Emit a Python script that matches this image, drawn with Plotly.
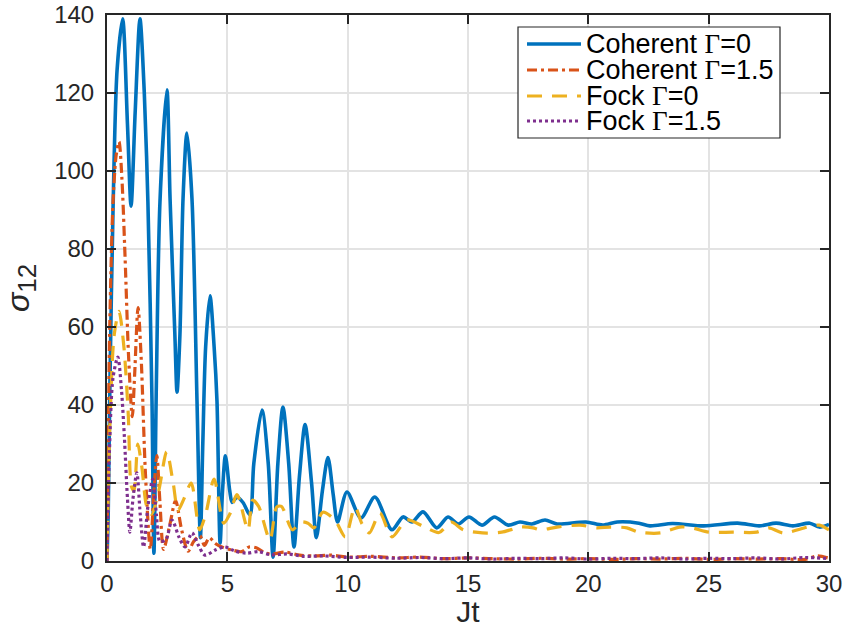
import plotly.graph_objects as go

# Time axis (Jt) and sigma_12 samples for each case
coh0_t = [0, 0.05, 0.12, 0.25, 0.42, 0.65, 0.85, 1.0, 1.17, 1.37, 1.55, 1.7, 1.87, 1.95, 2.05, 2.2,
          2.49, 2.62, 2.82, 2.91, 3.03, 3.16, 3.32, 3.53, 3.74, 3.88, 3.98, 4.1, 4.28, 4.45, 4.57,
          4.7, 4.8, 4.92, 5.1, 5.2, 5.4, 5.65, 5.94, 6.1, 6.44, 6.7, 6.9, 7.1, 7.31, 7.55, 7.77,
          8.0, 8.23, 8.5, 8.7, 8.95, 9.18, 9.4, 9.58, 9.97, 10.55, 11.13, 11.84, 12.3, 12.67,
          13.13, 13.7, 14.17, 14.6, 15.04, 15.58, 16.1, 16.67, 17.16, 17.65, 18.2, 18.7, 19.9,
          20.6, 21.2, 22.1, 22.56, 23.5, 24.8, 26.2, 27.1, 27.8, 28.5, 29.2, 29.6, 30]
coh0_s = [0, 12, 45, 90, 126, 139, 112, 91, 115, 139, 120, 92, 41, 2, 45, 92,
          120.8, 93, 58, 43.3, 58, 93, 109.7, 93, 41, 6, 30, 55, 68, 55, 41,
          4.6, 18, 27, 18, 15, 16.4, 15, 11.8, 25, 38.7, 25, 1, 25, 39.5, 25, 3.6,
          22, 35, 20, 6, 18, 26.5, 17, 10, 17.7, 11, 16.4, 8, 11.3, 10,
          12.6, 8.5, 11.3, 9.5, 11.3, 9.2, 11.3, 9.2, 10, 9.5, 10.5, 9.5, 10,
          9.2, 10, 9.7, 9, 9.6, 9, 9.7, 9, 9.7, 9, 9.7, 8.7, 9.4]

coh15_t = [0, 0.05, 0.12, 0.25, 0.38, 0.5, 0.62, 0.75, 0.9, 1.05, 1.15, 1.29, 1.42, 1.6, 1.8,
           1.95, 2.07, 2.2, 2.35, 2.6, 2.85, 3.1, 3.37, 3.6, 3.86, 4.05, 4.25, 4.5, 4.8, 5.2,
           5.6, 5.9, 6.2, 6.6, 6.9, 7.4, 8.0, 8.6, 9.3, 10, 11, 12, 13, 14, 15, 16, 17, 18, 19,
           20, 21, 22, 23, 24, 25, 26, 27, 28, 29, 29.5, 30]
coh15_s = [0, 30, 62, 92, 104, 107.5, 98, 78, 52, 37, 48, 65, 52, 22, 3,
           18, 27, 15, 3, 9, 15.5, 8, 2.5, 5, 6.5, 4, 6, 4.5, 3.5, 2.8,
           2.4, 3.6, 3.4, 2, 1.8, 2.3, 1.5, 1.3, 1.5, 1.0, 1.2, 0.8, 1.0, 0.6, 0.8, 0.6, 0.5, 0.7, 0.5,
           0.6, 0.4, 0.6, 0.5, 0.7, 0.4, 0.6, 0.5, 0.6, 0.4, 1.3, 0.7]

fock0_t = [0, 0.12, 0.3, 0.5, 0.7, 0.88, 1.02, 1.12, 1.28, 1.45, 1.65, 1.85, 2.15, 2.48, 2.75,
           2.95, 3.2, 3.5, 3.85, 4.1, 4.45, 4.85, 5.1, 5.4, 5.86, 6.05, 6.3, 6.77, 7.05, 7.25,
           7.7, 8.05, 8.35, 8.6, 8.97, 9.47, 9.9, 10.3, 10.6, 10.9, 11.34, 11.84, 12.46, 13.2,
           13.8, 14.3, 14.8, 15.6, 16.4, 17.2, 17.7, 18.0, 18.7, 19.65, 20.35, 20.9, 21.6,
           22.1, 23.0, 23.8, 24.3, 25.0, 26.0, 27.0, 27.5, 28.1, 29.1, 29.6, 30]
fock0_s = [0, 35, 58, 64, 55, 38, 19, 18, 30, 24, 14, 12, 18, 28, 20,
           13, 16, 20, 8, 12, 21, 9.7, 12, 17, 8, 15.6, 14, 5.4, 13.8, 14,
           8, 10, 9.7, 8.5, 12.5, 10.5, 6.2, 13.8, 9.5, 7.2, 12.3, 6.2, 10.5, 8.7,
           7.3, 10, 8, 7.2, 7.4, 8.7, 8.5, 8, 8.7, 9.2, 8.5, 8.7, 8.5,
           7.4, 7.2, 8.7, 8.5, 7.4, 7.4, 7.4, 8.5, 7.2, 8.7, 9.2, 8]

fock15_t = [0, 0.1, 0.25, 0.45, 0.6, 0.72, 0.85, 0.95, 1.08, 1.24, 1.38, 1.52, 1.7, 1.9, 2.05,
            2.2, 2.45, 2.7, 3.0, 3.24, 3.53, 3.8, 4.07, 4.5, 4.9, 5.3, 5.8, 6.3, 6.8, 7.5, 8.2,
            9.0, 10, 11, 12, 13, 14, 15, 16, 17, 18, 19, 20, 21, 22, 23, 24, 25, 26, 27, 28, 29, 30]
fock15_s = [0, 28, 47, 52.3, 44, 32, 16, 7.4, 16, 22.6, 12, 3.6, 14, 21, 12,
            5, 5.5, 10.5, 6, 3.6, 7.2, 4, 1.5, 2.8, 3.6, 2.6, 2.0, 2.4, 1.6, 1.8, 1.2,
            1.3, 0.9, 1.0, 0.7, 0.9, 0.6, 0.8, 0.5, 0.7, 0.6, 0.8, 0.5, 0.7, 0.6, 0.8, 0.5, 0.7, 0.6, 0.8, 0.5, 0.9, 0.6]

series_names = ["Coherent Γ=0", "Coherent Γ=1.5", "Fock Γ=0", "Fock Γ=1.5"]
GAMMA = "<span style=\"font-family:'Liberation Serif',serif\">Γ</span>"
legend_labels = [
    "Coherent " + GAMMA + "=0",
    "Coherent " + GAMMA + "=1.5",
    "Fock " + GAMMA + "=0",
    "Fock " + GAMMA + "=1.5",
]
x_ticks = [0, 5, 10, 15, 20, 25, 30]
y_ticks = [0, 20, 40, 60, 80, 100, 120, 140]

colors = ["#0072BD", "#D95319", "#EDB120", "#7E2F8E"]
dashes = ["solid", "10px,4px,3px,4px", "15px,10px", "3px,3px"]
widths = [3.6, 3.2, 3.2, 3.2]

fig = go.Figure()
data = [(coh0_t, coh0_s), (coh15_t, coh15_s), (fock0_t, fock0_s), (fock15_t, fock15_s)]
for (t, s), name, c, d, w in zip(data, series_names, colors, dashes, widths):
    fig.add_trace(go.Scatter(x=t, y=s, mode="lines", name=name,
                             line=dict(color=c, width=w, dash=d, shape="spline", smoothing=0.8)))

axis_common = dict(
    automargin=False,
    showline=True, linecolor="#262626", linewidth=2, mirror="ticks",
    ticks="inside", ticklen=9, tickwidth=1.5, tickcolor="#262626",
    showgrid=True, gridcolor="#E3E3E3", gridwidth=1.5, zeroline=False,
    tickfont=dict(size=24, color="#262626"),
)
fig.update_xaxes(range=[0, 30], tickvals=x_ticks, ticktext=[str(v) for v in x_ticks],
                 title=dict(text="Jt", font=dict(size=30, color="#262626"), standoff=0),
                 **axis_common)
fig.update_yaxes(range=[0, 140], tickvals=y_ticks, ticktext=[str(v) for v in y_ticks],
                 ticklabelstandoff=6,
                 title=dict(text="<i>σ</i><sub><span style=\"font-size:26px\">12</span></sub>",
                            font=dict(size=32, color="#262626"), standoff=20),
                 **axis_common)

# Legend drawn in plot-area (paper) coordinates
PX0, PW, PY1, PH = 107, 722, 561, 546
def px(x):
    return (x - PX0) / PW
def py(y):
    return (PY1 - y) / PH

shapes = [dict(type="rect", xref="paper", yref="paper",
               x0=px(518), x1=px(780), y0=py(138), y1=py(27),
               line=dict(color="#262626", width=1.2), fillcolor="white", layer="above")]
annotations = []
row_y = [44, 70, 96, 121]
for ry, c, d, w, lab in zip(row_y, colors, dashes, widths, legend_labels):
    shapes.append(dict(type="line", xref="paper", yref="paper",
                       x0=px(527), x1=px(581), y0=py(ry), y1=py(ry),
                       line=dict(color=c, width=w, dash=d), layer="above"))
    annotations.append(dict(xref="paper", yref="paper", x=px(584), y=py(ry),
                            xanchor="left", yanchor="middle", showarrow=False,
                            text=lab, font=dict(size=27, color="#000000")))

fig.update_layout(
    width=848, height=628,
    margin=dict(l=107, r=19, t=15, b=67, autoexpand=False),
    plot_bgcolor="white", paper_bgcolor="white",
    font=dict(family="Liberation Sans, Arial, Helvetica, sans-serif", size=24, color="#262626"),
    showlegend=False,
    shapes=shapes, annotations=annotations,
)

fig.write_html("out.html")
